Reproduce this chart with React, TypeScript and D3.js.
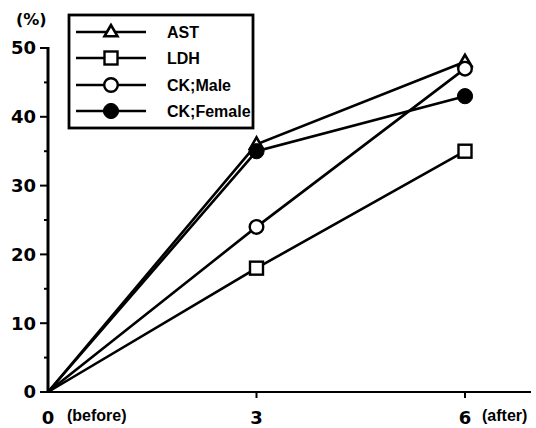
import React from "react";
import * as d3 from "d3";

const timepoints = [0, 3, 6];
const seriesNames = ["AST", "LDH", "CK;Male", "CK;Female"];
const astValues = [0, 36, 48];
const ldhValues = [0, 18, 35];
const ckMaleValues = [0, 24, 47];
const ckFemaleValues = [0, 35, 43];
const markerKinds = ["triangle", "square", "circle", "filled"];
const yMajorTicks = [0, 10, 20, 30, 40, 50];
const yMinorTicks = [5, 15, 25, 35, 45];
const xTickLabels = ["0", "3", "6"];

const W = 536;
const H = 428;
const FONT = "'Liberation Sans', Arial, Helvetica, sans-serif";
const NUMFONT = "'DejaVu Sans', sans-serif";

function Marker({ kind, x, y }: { kind: string; x: number; y: number }) {
  if (kind === "triangle") {
    const s = 13;
    const h = s * 0.87;
    const pts = [
      [x, y - h * 0.62],
      [x - s / 2, y + h * 0.38],
      [x + s / 2, y + h * 0.38],
    ];
    return <polygon points={pts.map((p) => p.join(",")).join(" ")} fill="#fff" stroke="#000" strokeWidth={2.6} strokeLinejoin="miter" />;
  }
  if (kind === "square") {
    const s = 13;
    return <rect x={x - s / 2} y={y - s / 2} width={s} height={s} fill="#fff" stroke="#000" strokeWidth={2.4} />;
  }
  if (kind === "circle") {
    return <circle cx={x} cy={y} r={6.8} fill="#fff" stroke="#000" strokeWidth={2.4} />;
  }
  return <circle cx={x} cy={y} r={7.6} fill="#000" stroke="#000" strokeWidth={1} />;
}

export default function App() {
  const x = d3.scaleLinear().domain([0, 6]).range([48, 465]);
  const y = d3.scaleLinear().domain([0, 50]).range([392, 48]);
  const all = [astValues, ldhValues, ckMaleValues, ckFemaleValues];
  const line = d3
    .line<number>()
    .x((_, i) => x(timepoints[i]))
    .y((d) => y(d));

  const legendRows = [32, 58, 85, 111];

  return (
    <svg
      width={W}
      height={H}
      style={{ position: "absolute", left: 0, top: 0, background: "#fff" }}
    >
      <rect x={0} y={0} width={W} height={H} fill="#fff" />
      {/* y axis */}
      <line x1={x(0)} x2={x(0)} y1={y(50) - 1} y2={y(0) + 1} stroke="#000" strokeWidth={3} />
      {yMajorTicks.map((t) => (
        <g key={"ym" + t}>
          <line x1={x(0) - 8} x2={x(0)} y1={y(t)} y2={y(t)} stroke="#000" strokeWidth={2} />
          <text
            x={x(0) - 12}
            y={y(t)}
            dy="0.36em"
            textAnchor="end"
            fontFamily={NUMFONT}
            fontWeight="bold"
            fontSize={18}
          >
            {t}
          </text>
        </g>
      ))}
      {yMinorTicks.map((t) => (
        <line key={"yn" + t} x1={x(0) - 4} x2={x(0)} y1={y(t)} y2={y(t)} stroke="#000" strokeWidth={2} />
      ))}
      <text x={16} y={25} fontFamily={NUMFONT} fontWeight="bold" fontSize={16}>
        (%)
      </text>
      {/* x axis */}
      <line x1={x(0)} x2={531} y1={y(0)} y2={y(0)} stroke="#000" strokeWidth={2.2} />
      {timepoints.map((t, i) => (
        <g key={"xt" + t}>
          {i > 0 && <line x1={x(t)} x2={x(t)} y1={y(0)} y2={y(0) + 6} stroke="#000" strokeWidth={2} />}
          <text
            x={x(t)}
            y={424}
            textAnchor="middle"
            fontFamily={NUMFONT}
            fontWeight="bold"
            fontSize={18}
          >
            {xTickLabels[i]}
          </text>
        </g>
      ))}
      <text x={67} y={421} fontFamily={FONT} fontWeight="bold" fontSize={16}>
        (before)
      </text>
      <text x={482} y={421} fontFamily={FONT} fontWeight="bold" fontSize={16}>
        (after)
      </text>
      {/* series lines */}
      {all.map((vals, si) => (
        <path key={"l" + si} d={line(vals) || ""} fill="none" stroke="#000" strokeWidth={2.6} />
      ))}
      {all.map((vals, si) =>
        vals.map((v, i) =>
          i === 0 ? null : <Marker key={"m" + si + "-" + i} kind={markerKinds[si]} x={x(timepoints[i])} y={y(v)} />
        )
      )}
      {/* legend */}
      <rect x={69} y={15} width={184} height={113} fill="#fff" stroke="#000" strokeWidth={2.8} />
      {seriesNames.map((name, i) => (
        <g key={"lg" + name}>
          <line x1={76} x2={146} y1={legendRows[i]} y2={legendRows[i]} stroke="#000" strokeWidth={2.4} />
          <Marker kind={markerKinds[i]} x={111} y={legendRows[i]} />
          <text
            x={167}
            y={legendRows[i]}
            dy="0.36em"
            fontFamily={FONT}
            fontWeight="bold"
            fontSize={16}
          >
            {name}
          </text>
        </g>
      ))}
    </svg>
  );
}
